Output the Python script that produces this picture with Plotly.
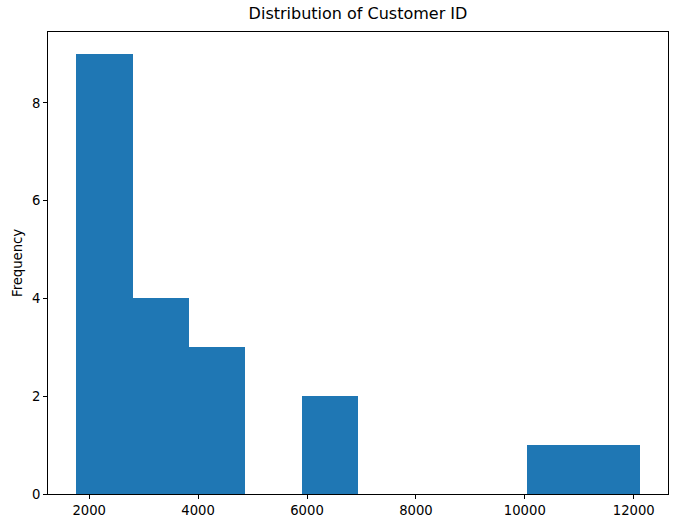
import numpy as np
import plotly.graph_objects as go

# Histogram data (10 bins between min and max of Customer ID)
data_min = 1761
data_max = 12112
counts = [9, 4, 3, 0, 2, 0, 0, 0, 1, 1]
x_ticks = [2000, 4000, 6000, 8000, 10000, 12000]
x_tick_labels = ["2000", "4000", "6000", "8000", "10000", "12000"]
y_ticks = [0, 2, 4, 6, 8]

edges = np.linspace(data_min, data_max, len(counts) + 1)
centers = (edges[:-1] + edges[1:]) / 2
width = edges[1] - edges[0]

span = data_max - data_min
x_range = [data_min - 0.05 * span, data_max + 0.05 * span]
y_range = [0, max(counts) * 1.05]

font = "DejaVu Sans"
tick_size = 13.2

fig = go.Figure()
fig.add_trace(go.Bar(
    x=centers, y=counts, width=[width] * len(counts),
    marker=dict(color="#1f77b4", line=dict(width=0)),
    showlegend=False, hoverinfo="x+y",
))

axis_common = dict(
    showline=True, mirror=True, linecolor="black", linewidth=1,
    ticks="outside", ticklen=4, tickwidth=1, tickcolor="black",
    showgrid=False, zeroline=False,
    tickfont=dict(family=font, size=tick_size, color="black"),
)

fig.update_layout(
    width=678, height=528,
    margin=dict(l=48, r=10, t=32, b=34),
    paper_bgcolor="white", plot_bgcolor="white",
    bargap=0,
    font=dict(family=font, color="black"),
    title=dict(text="Distribution of Customer ID", x=0.5, xref="paper",
               y=1 - 13 / 528, yref="container", yanchor="middle", xanchor="center",
               font=dict(family=font, size=16, color="black")),
    xaxis=dict(range=x_range, tickvals=x_ticks, ticktext=x_tick_labels, **axis_common),
    yaxis=dict(range=y_range, tickvals=y_ticks, **axis_common),
    annotations=[dict(text="Frequency", xref="paper", yref="paper",
                      x=(17 - 48) / 620, y=0.5, textangle=-90, showarrow=False,
                      xanchor="center", yanchor="middle",
                      font=dict(family=font, size=tick_size, color="black"))],
)

fig.write_html("out.html")
